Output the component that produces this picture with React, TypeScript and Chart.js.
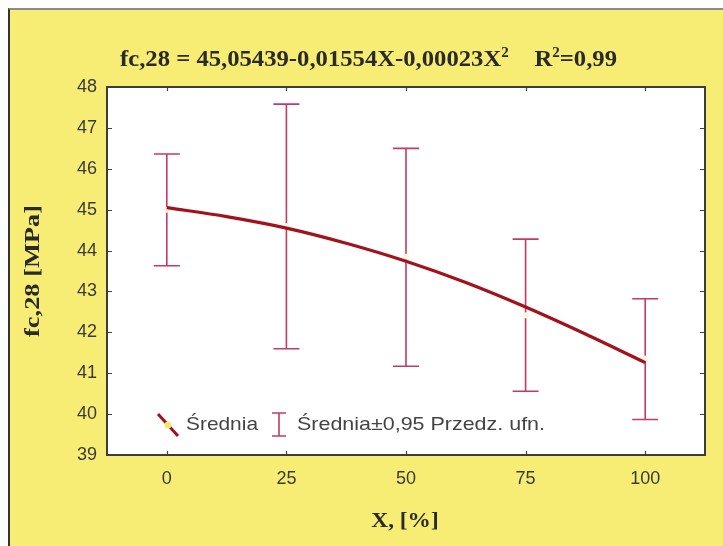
import React, { useEffect, useRef } from "react";
import { Chart, registerables } from "chart.js";

Chart.register(...registerables);

// ---- data ----
const xCategories = [0, 25, 50, 75, 100];
const meanValues = [45.0, 44.6, 43.85, 42.42, 41.36];
const upperValues = [46.36, 47.58, 46.5, 44.28, 42.82];
const lowerValues = [43.63, 41.6, 41.17, 40.56, 39.87];
const fitX = [0, 12.5, 25, 37.5, 50, 62.5, 75, 87.5, 100];
const fitY = [45.05, 44.83, 44.55, 44.18, 43.74, 43.22, 42.62, 41.96, 41.26];
const xTicks = [0, 25, 50, 75, 100];
const yTicks = [39, 40, 41, 42, 43, 44, 45, 46, 47, 48];

const titleMain = "fc,28 = 45,05439-0,01554X-0,00023X";
const titleR = "R";
const titleRVal = "=0,99";
const titleSup = "2";
const xTitle = "X, [%]";
const yTitle = "fc,28 [MPa]";
const legendMean = "Średnia";
const legendCI = "Średnia±0,95 Przedz. ufn.";

const BAR = "#c43a64";
const CURVE = "#a3121c";
const TEXT = "#3a3a3a";
const SERIF = "'Liberation Serif', 'Times New Roman', serif";
const SANS = "'Liberation Sans', Arial, sans-serif";

function fitText(ctx: any, text: string, x: number, y: number, width: number) {
  const w = ctx.measureText(text).width;
  ctx.save();
  ctx.translate(x, y);
  ctx.scale(width / w, 1);
  ctx.textAlign = "left";
  ctx.fillText(text, 0, 0);
  ctx.restore();
}

const decorPlugin = {
  id: "decor",
  beforeDraw(chart: any) {
    const { ctx, chartArea: a } = chart;
    ctx.save();
    ctx.fillStyle = "#ffffff";
    ctx.fillRect(a.left, a.top, a.right - a.left, a.bottom - a.top);
    ctx.restore();
  },
  beforeDatasetsDraw(chart: any) {
    const { ctx, scales } = chart;
    const xs = scales.x;
    const ys = scales.y;
    ctx.save();
    ctx.strokeStyle = BAR;
    ctx.lineWidth = 1.6;
    xCategories.forEach((xv, i) => {
      const px = xs.getPixelForValue(xv);
      const pt = ys.getPixelForValue(upperValues[i]);
      const pb = ys.getPixelForValue(lowerValues[i]);
      ctx.beginPath();
      ctx.moveTo(px, pt);
      ctx.lineTo(px, pb);
      ctx.moveTo(px - 13, pt);
      ctx.lineTo(px + 13, pt);
      ctx.moveTo(px - 13, pb);
      ctx.lineTo(px + 13, pb);
      ctx.stroke();
    });
    ctx.restore();
  },
  afterDraw(chart: any) {
    const { ctx, chartArea: a, scales } = chart;
    const xs = scales.x;
    const ys = scales.y;
    ctx.save();
    ctx.strokeStyle = "#444";
    ctx.lineWidth = 1.2;
    ctx.beginPath();
    xTicks.forEach((v) => {
      const px = Math.round(xs.getPixelForValue(v)) + 0.5;
      ctx.moveTo(px, a.top);
      ctx.lineTo(px, a.top + 4);
      ctx.moveTo(px, a.bottom);
      ctx.lineTo(px, a.bottom - 4);
    });
    yTicks.forEach((v) => {
      const py = Math.round(ys.getPixelForValue(v)) + 0.5;
      ctx.moveTo(a.left, py);
      ctx.lineTo(a.left + 5, py);
      ctx.moveTo(a.right, py);
      ctx.lineTo(a.right - 5, py);
    });
    ctx.stroke();
    ctx.strokeStyle = "#3c3c3c";
    ctx.lineWidth = 2;
    ctx.strokeRect(a.left, a.top, a.right - a.left, a.bottom - a.top);

    // legend inside plot
    const ly = 425;
    ctx.strokeStyle = CURVE;
    ctx.lineWidth = 3;
    ctx.beginPath();
    ctx.moveTo(158, 414);
    ctx.lineTo(178, 436);
    ctx.stroke();
    ctx.fillStyle = "#f4e66a";
    ctx.beginPath();
    ctx.arc(168, 425, 3.5, 0, Math.PI * 2);
    ctx.fill();
    ctx.font = `19px ${SANS}`;
    ctx.fillStyle = "#444";
    ctx.textBaseline = "middle";
    fitText(ctx, legendMean, 186, ly, 72);
    ctx.strokeStyle = BAR;
    ctx.lineWidth = 1.6;
    ctx.beginPath();
    ctx.moveTo(279, 413);
    ctx.lineTo(279, 436);
    ctx.moveTo(272, 413);
    ctx.lineTo(286, 413);
    ctx.moveTo(272, 436);
    ctx.lineTo(286, 436);
    ctx.stroke();
    fitText(ctx, legendCI, 297, ly, 248);

    // title (uniformly scaled to span the measured width)
    ctx.fillStyle = "#2a2a2a";
    ctx.textBaseline = "alphabetic";
    ctx.textAlign = "left";
    const big = `bold 23px ${SERIF}`;
    const small = `bold 14px ${SERIF}`;
    const base = 66;
    ctx.font = big;
    const wMain = ctx.measureText(titleMain).width;
    const wR = ctx.measureText(titleR).width;
    const wVal = ctx.measureText(titleRVal).width;
    ctx.font = small;
    const wSup = ctx.measureText(titleSup).width;
    const gap = 24;
    const total = wMain + wSup + gap + wR + wSup + wVal;
    const sx = (617 - 120) / total;
    ctx.save();
    ctx.translate(120, base);
    ctx.scale(sx, 1);
    let cx = 0;
    ctx.font = big;
    ctx.fillText(titleMain, cx, 0);
    cx += wMain;
    ctx.font = small;
    ctx.fillText(titleSup, cx, -9);
    cx += wSup + gap;
    ctx.font = big;
    ctx.fillText(titleR, cx, 0);
    cx += wR;
    ctx.font = small;
    ctx.fillText(titleSup, cx, -9);
    cx += wSup;
    ctx.font = big;
    ctx.fillText(titleRVal, cx, 0);
    ctx.restore();

    ctx.textAlign = "center";
    ctx.textBaseline = "middle";
    ctx.font = `bold 22px ${SERIF}`;
    ctx.save();
    ctx.translate(405, 521);
    ctx.scale(1.06, 1);
    ctx.fillText(xTitle, 0, 0);
    ctx.restore();
    ctx.translate(33, 271);
    ctx.rotate(-Math.PI / 2);
    ctx.scale(1.2, 1);
    ctx.fillText(yTitle, 0, 0);
    ctx.restore();
  },
};

export default function App() {
  const ref = useRef<HTMLCanvasElement>(null);
  useEffect(() => {
    if (!ref.current) return;
    const chart = new Chart(ref.current, {
      type: "scatter",
      data: {
        datasets: [
          {
            type: "line",
            label: "fit",
            data: fitX.map((x, i) => ({ x, y: fitY[i] })),
            borderColor: CURVE,
            borderWidth: 3.2,
            pointRadius: 0,
            tension: 0.4,
            cubicInterpolationMode: "monotone",
            fill: false,
            order: 0,
          } as any,
          {
            type: "scatter",
            label: "mean",
            data: xCategories.map((x, i) => ({ x, y: meanValues[i] })),
            backgroundColor: "#fbf6e2",
            borderWidth: 0,
            pointRadius: 3,
            order: 1,
          } as any,
        ],
      },
      options: {
        animation: false,
        responsive: false,
        layout: { padding: { left: 0, right: 18, top: 87, bottom: 0 } },
        plugins: { legend: { display: false }, tooltip: { enabled: false }, title: { display: false } },
        scales: {
          x: {
            type: "linear",
            min: -12.5,
            max: 112.5,
            afterBuildTicks: (s: any) => {
              s.ticks = xTicks.map((v) => ({ value: v }));
            },
            afterFit: (s: any) => {
              s.height = 91;
            },
            grid: { display: false, drawTicks: false },
            border: { display: false },
            ticks: {
              color: TEXT,
              padding: 13,
              autoSkip: false,
              font: { family: SANS, size: 18 },
              maxRotation: 0,
            },
          },
          y: {
            type: "linear",
            min: 39,
            max: 48,
            afterBuildTicks: (s: any) => {
              s.ticks = yTicks.map((v) => ({ value: v }));
            },
            afterFit: (s: any) => {
              s.width = 107;
            },
            grid: { display: false, drawTicks: false },
            border: { display: false },
            ticks: {
              color: TEXT,
              padding: 10,
              autoSkip: false,
              font: { family: SANS, size: 18 },
            },
          },
        },
      },
      plugins: [decorPlugin],
    });
    return () => chart.destroy();
  }, []);

  return (
    <div style={{ position: "fixed", left: 0, top: 0, width: 723, height: 546, background: "#ffffff" }}>
      <div
        style={{
          position: "absolute",
          left: 8,
          top: 8,
          width: 715,
          height: 538,
          boxSizing: "border-box",
          borderTop: "2px solid #8a8a8a",
          borderLeft: "2px solid #333",
          background: "#f7ed74",
        }}
      />
      <canvas ref={ref} width={723} height={546} style={{ position: "absolute", left: 0, top: 0 }} />
    </div>
  );
}
